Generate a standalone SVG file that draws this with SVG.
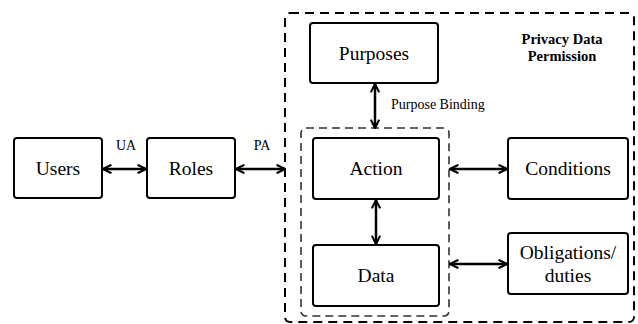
<svg xmlns="http://www.w3.org/2000/svg" width="638" height="324" viewBox="0 0 638 324">
<defs>
<marker id="ah" viewBox="0 0 10 10" refX="9" refY="5" markerWidth="4.2" markerHeight="4.2" orient="auto-start-reverse" markerUnits="strokeWidth">
<path d="M1,1 L9,5 L1,9" fill="none" stroke="#000" stroke-width="2"/>
</marker>
</defs>
<style>
.box{fill:#fff;stroke:#000;stroke-width:2}
.dash{fill:none;stroke:#000;stroke-width:2;stroke-dasharray:9,6}
.dash2{fill:none;stroke:#333;stroke-width:1.6;stroke-dasharray:8,5}
text{font-family:'Liberation Serif','Times New Roman','DejaVu Serif',serif}
.lbl{font-size:19.5px;text-anchor:middle;fill:#000}
.sm{font-size:14px;fill:#000}
.bold{font-size:14.5px;font-weight:bold;text-anchor:middle;fill:#000}
.con{stroke:#000;stroke-width:2.5;fill:none;marker-start:url(#ah);marker-end:url(#ah)}
</style>
<rect id="privacy-data-permission" class="dash" x="285" y="13" width="349" height="309" rx="5"/>
<rect id="action-data-group" class="dash2" x="301" y="128" width="148" height="188" rx="5"/>
<text class="bold" x="562" y="44">Privacy Data</text>
<text class="bold" x="562" y="61">Permission</text>
<g id="users"><rect class="box" x="14" y="138" width="88" height="60" rx="3"/><text class="lbl" x="58" y="175">Users</text></g>
<g id="roles"><rect class="box" x="147" y="138" width="88" height="60" rx="3"/><text class="lbl" x="191" y="175">Roles</text></g>
<g id="purposes"><rect class="box" x="310" y="23" width="128" height="60" rx="3"/><text class="lbl" x="374" y="60">Purposes</text></g>
<g id="action"><rect class="box" x="313" y="138" width="126" height="61" rx="3"/><text class="lbl" x="376" y="175">Action</text></g>
<g id="data"><rect class="box" x="313" y="245" width="126" height="61" rx="3"/><text class="lbl" x="376" y="282">Data</text></g>
<g id="conditions"><rect class="box" x="508" y="138" width="120" height="61" rx="3"/><text class="lbl" x="568" y="175">Conditions</text></g>
<g id="obligations"><rect class="box" x="508" y="233" width="120" height="61" rx="3"/><text class="lbl" x="568" y="259">Obligations/</text><text class="lbl" x="568" y="282">duties</text></g>
<g id="connectors">
<line class="con" x1="103" y1="169" x2="146" y2="169"/>
<line class="con" x1="236" y1="169" x2="285" y2="169"/>
<line class="con" x1="375" y1="84" x2="375" y2="128"/>
<line class="con" x1="376" y1="200" x2="376" y2="244"/>
<line class="con" x1="450" y1="169" x2="507" y2="169"/>
<line class="con" x1="450" y1="264" x2="507" y2="264"/>
<text class="sm" x="126" y="150" text-anchor="middle">UA</text>
<text class="sm" x="262" y="150" text-anchor="middle">PA</text>
<text class="sm" x="391" y="109">Purpose Binding</text>
</g>
</svg>
